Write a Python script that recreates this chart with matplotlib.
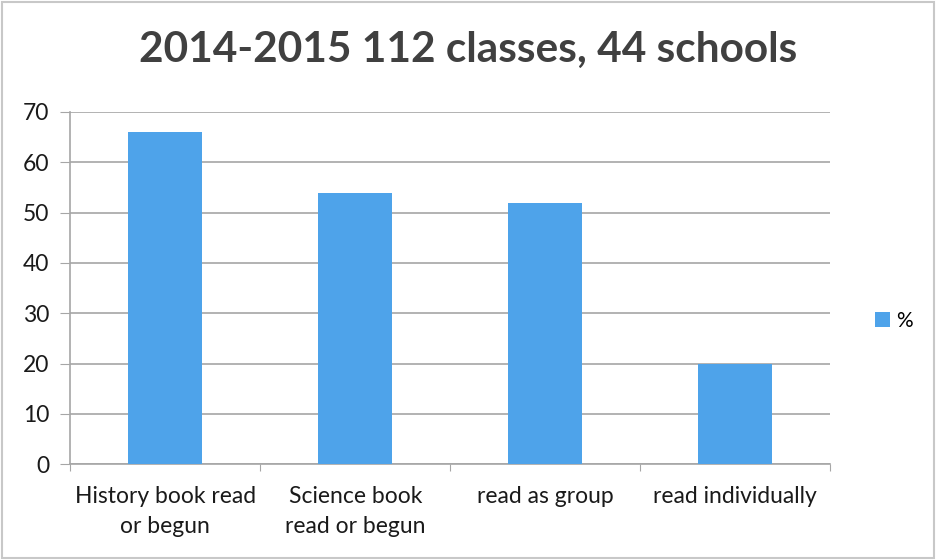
import numpy as np
import matplotlib.pyplot as plt
from matplotlib.patches import Rectangle

# Values
categories = ['History book read\nor begun', 'Science book\nread or begun', 'read as group', 'read individually']
percent = [66, 54, 52, 20]
yticks = [0, 10, 20, 30, 40, 50, 60, 70]

plt.rcParams['font.family'] = ['Lato', 'DejaVu Sans']

fig = plt.figure(figsize=(9.36, 5.6), dpi=100)
ax = fig.add_axes([0.075, 0.171, 0.812, 0.629])

x = np.arange(len(categories))
bars = ax.bar(x, percent, width=0.39, color='#4ea3ea', label='%', zorder=3)

ax.set_xlim(-0.5, len(categories) - 0.5)
ax.set_ylim(0, 70)
ax.set_yticks(yticks)
ax.yaxis.grid(True, color='#a6a6a6', linewidth=1.2, zorder=0)

# category boundaries get the tick marks, labels sit in the middle
ax.set_xticks(np.arange(-0.5, len(categories)), minor=False)
ax.set_xticklabels([])
ax.set_xticks(x, minor=True)
ax.set_xticklabels(categories, minor=True, fontsize=16.5, color='#1a1a1a', linespacing=1.5)
ax.tick_params(axis='x', which='minor', length=0, pad=16)
ax.tick_params(axis='x', which='major', length=5, color='#a6a6a6')
ax.tick_params(axis='y', length=7, color='#a6a6a6', labelsize=16.5, labelcolor='#1a1a1a', pad=8)

for side in ['top', 'right']:
    ax.spines[side].set_visible(False)
for side in ['left', 'bottom']:
    ax.spines[side].set_color('#a6a6a6')
    ax.spines[side].set_linewidth(1.2)

fig.suptitle('2014-2015 112 classes, 44 schools', x=0.5, y=0.945,
             fontsize=30.5, fontweight='bold', color='#404040')

leg = fig.legend(handles=[bars], labels=['%'], loc='center left',
                 bbox_to_anchor=(0.915, 0.427), frameon=False, fontsize=15,
                 handlelength=0.7, handleheight=0.7, handletextpad=0.3)

# light frame round the whole chart
fig.patches.append(Rectangle((0.002, 0.004), 0.996, 0.992, transform=fig.transFigure,
                             fill=False, edgecolor='#c8c8c8', linewidth=1.5))

fig.savefig('out.png', dpi=100)
